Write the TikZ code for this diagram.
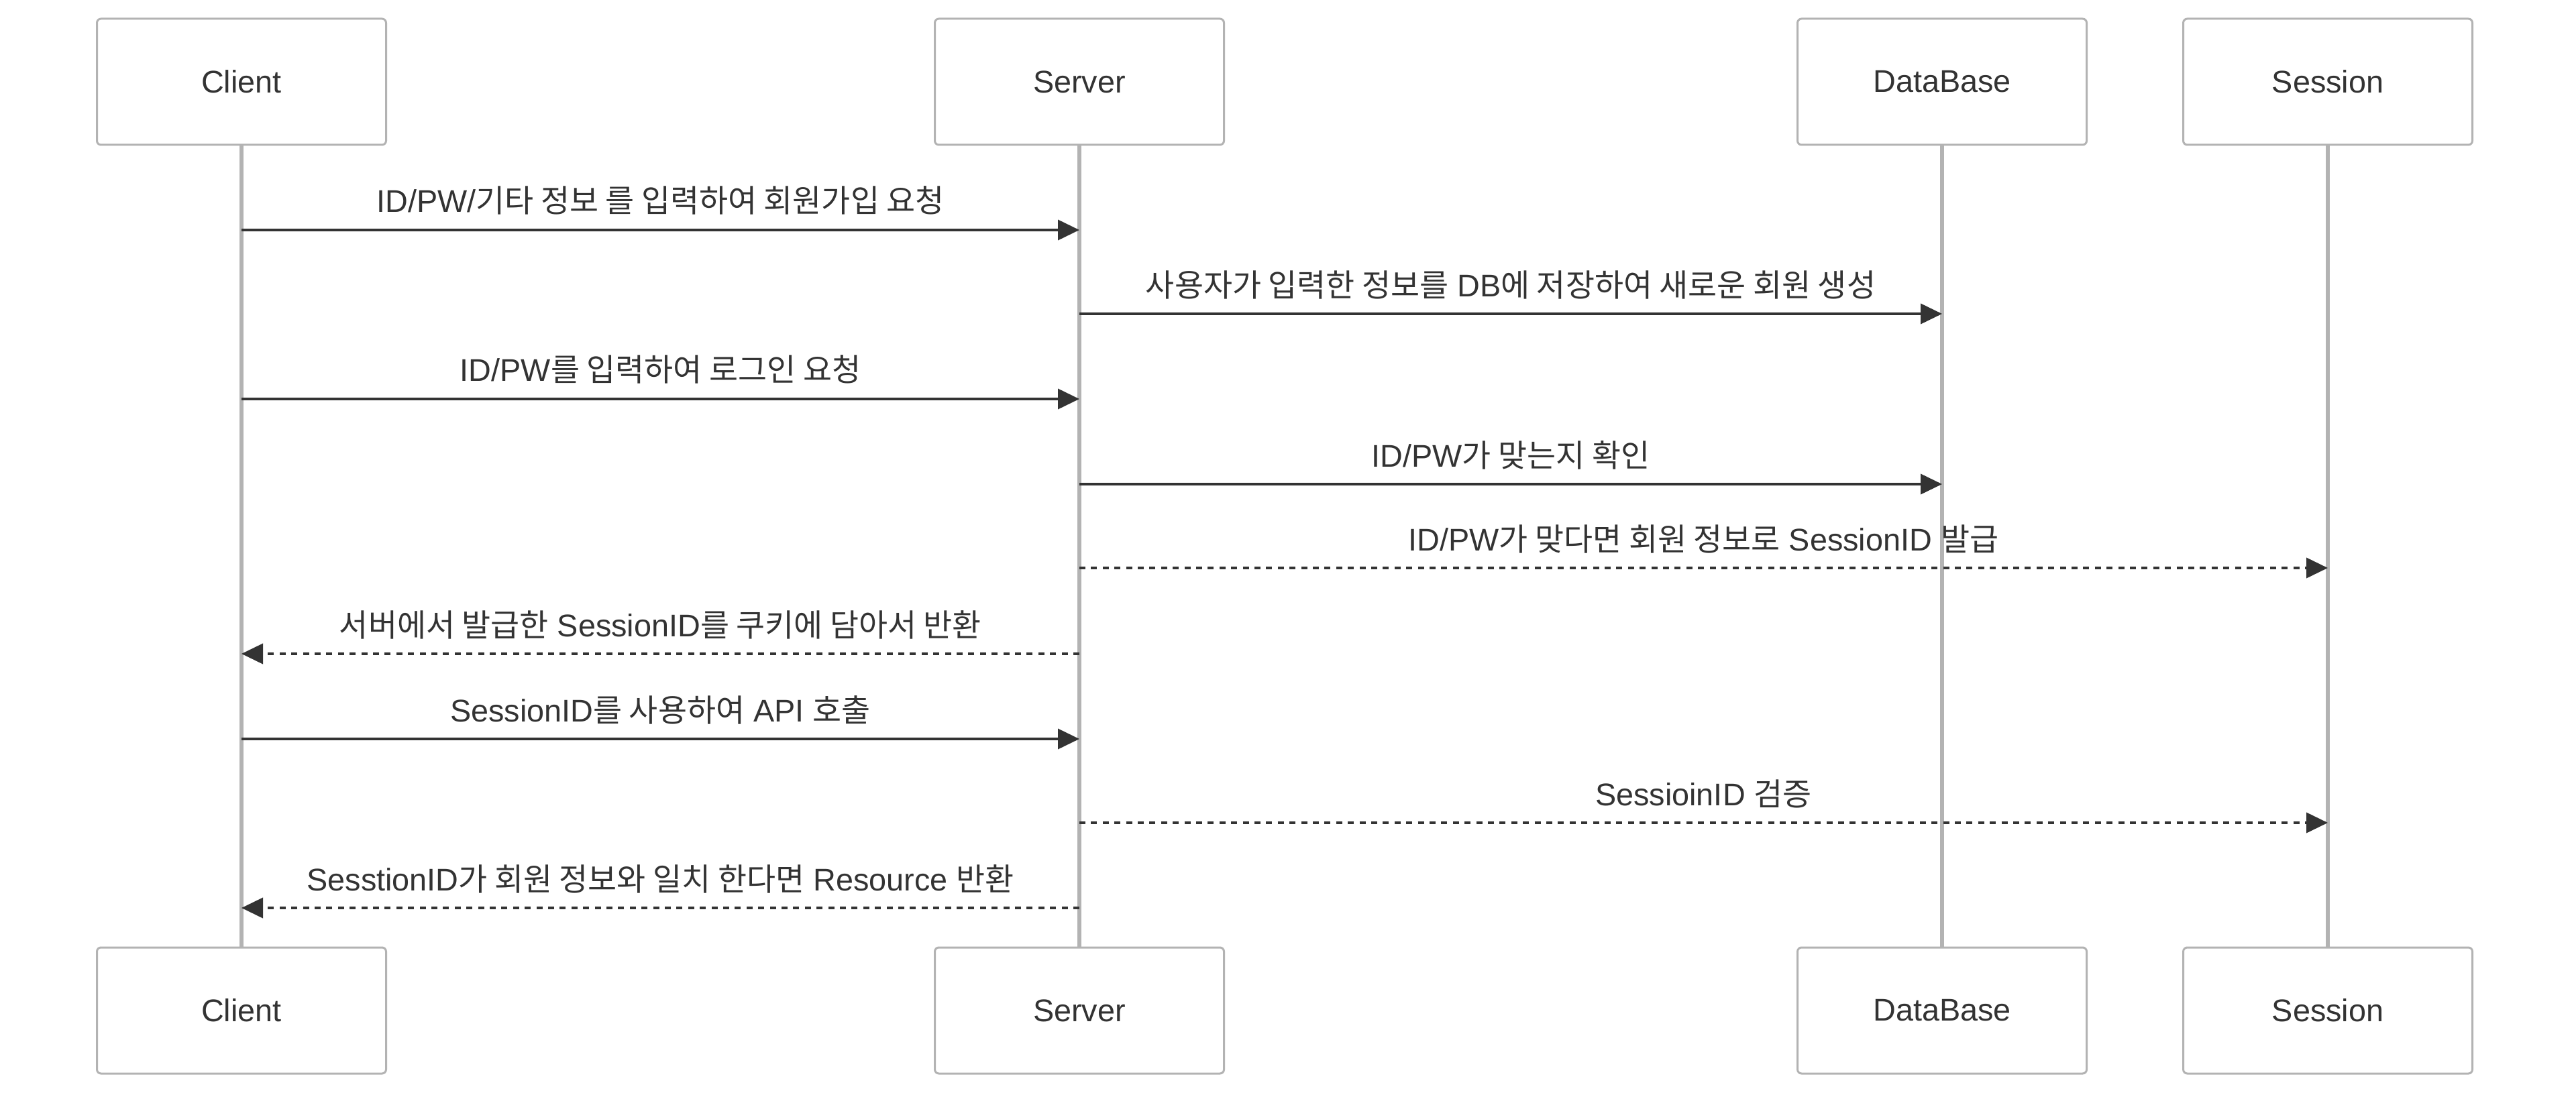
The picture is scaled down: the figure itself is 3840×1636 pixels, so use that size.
\documentclass[tikz,border=0pt]{standalone}
\usepackage{fontspec}
\setmainfont{Liberation Sans}
\newfontfamily\krfont{Noto Sans CJK KR}
\newcommand{\kr}[1]{{\krfont #1}}
\usetikzlibrary{arrows.meta}
\definecolor{ink}{HTML}{333333}
\definecolor{rulegray}{HTML}{B3B3B3}
\tikzset{
  actor/.style={draw=rulegray, line width=0.75pt, fill=white, rounded corners=1.5pt,
    minimum width=107.75pt, minimum height=47pt, inner sep=0pt, text=ink,
    font=\fontsize{11.7}{14}\selectfont},
  life/.style={draw=rulegray, line width=1.5pt},
  msg/.style={draw=ink, line width=1pt, -{Triangle[length=8pt, width=7.5pt]}},
  reply/.style={msg, dash pattern=on 2.25pt off 2.1pt},
  lbl/.style={anchor=base, yshift=6.5pt, inner sep=0pt, text=ink,
    font=\fontsize{11.7}{14}\selectfont},
}
\begin{document}
\begin{tikzpicture}[x=0.25pt,y=0.25pt,yscale=-1,xscale=1]
    \useasboundingbox (0,0) rectangle (3840,1636);

    % participants, top row
    \node[actor] (client)  at (360,122)  {Client};
    \node[actor] (server)  at (1609,122) {Server};
    \node[actor] (db)      at (2895,122) {DataBase};
    \node[actor] (session) at (3470,122) {Session};
    % participants, bottom row
    \node[actor] (clientB)  at (360,1507)  {Client};
    \node[actor] (serverB)  at (1609,1507) {Server};
    \node[actor] (dbB)      at (2895,1507) {DataBase};
    \node[actor] (sessionB) at (3470,1507) {Session};

    % lifelines
    \draw[life] (client.south) -- (clientB.north);
    \draw[life] (server.south) -- (serverB.north);
    \draw[life] (db.south) -- (dbB.north);
    \draw[life] (session.south) -- (sessionB.north);

    % sign up
    \draw[msg] (client |- 0,343) -- node[lbl] {ID/PW/\kr{기타 정보 를 입력하여 회원가입 요청}} (server |- 0,343);
    \draw[msg] (server |- 0,468) -- node[lbl] {\kr{사용자가 입력한 정보를} DB\kr{에 저장하여 새로운 회원 생성}} (db |- 0,468);
    % login
    \draw[msg] (client |- 0,595) -- node[lbl] {ID/PW\kr{를 입력하여 로그인 요청}} (server |- 0,595);
    \draw[msg] (server |- 0,722) -- node[lbl] {ID/PW\kr{가 맞는지 확인}} (db |- 0,722);
    \draw[reply] (server |- 0,847) -- node[lbl] {ID/PW\kr{가 맞다면 회원 정보로} SessionID \kr{발급}} (session |- 0,847);
    \draw[reply] (server |- 0,975) -- node[lbl] {\kr{서버에서 발급한} SessionID\kr{를 쿠키에 담아서 반환}} (client |- 0,975);
    % api call
    \draw[msg] (client |- 0,1102) -- node[lbl] {SessionID\kr{를 사용하여} API \kr{호출}} (server |- 0,1102);
    \draw[reply] (server |- 0,1227) -- node[lbl] {SessioinID \kr{검증}} (session |- 0,1227);
    \draw[reply] (server |- 0,1354) -- node[lbl] {SesstionID\kr{가 회원 정보와 일치 한다면} Resource \kr{반환}} (client |- 0,1354);
\end{tikzpicture}
\end{document}
